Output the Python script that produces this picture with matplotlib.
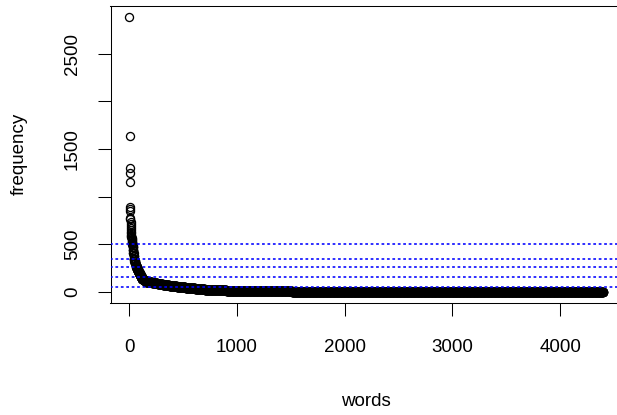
import numpy as np
import matplotlib.pyplot as plt

plt.rcParams['font.family'] = ['Liberation Sans', 'DejaVu Sans']

# most frequent words, read one by one
top_freqs = [2885, 1635, 1297, 1244, 1156, 893, 872, 845, 780, 762, 735, 712, 690,
             668, 650, 633, 618, 602, 590, 578, 565, 553, 542, 533, 525, 517, 510,
             505, 500, 495]
# the rest: frequency level and how many words sit at it
freq_levels = [470, 440, 410, 380, 350, 320, 300, 280, 260, 240, 220, 200, 180, 160,
               140, 125, 110, 100, 90, 80, 70, 60, 50, 40, 30, 20, 15, 10, 1]
level_counts = [3, 3, 3, 3, 4, 5, 6, 6, 6, 8, 9, 10, 9, 10,
                15, 20, 30, 30, 50, 50, 60, 70, 80, 90, 90, 200, 250, 360, 2890]
# dotted reference lines
cut_lines = [500, 350, 260, 155, 48]

frequency = np.concatenate([top_freqs, np.repeat(freq_levels, level_counts)])
words = np.arange(1, len(frequency) + 1)

fig = plt.figure(figsize=(6.17, 4.15), dpi=100)
ax = fig.add_axes([110.5 / 617, 1 - 302.9 / 415, (622 - 110.5) / 617, (302.9 - 5.8) / 415])

ax.plot(words, frequency, linestyle='none', marker='o', markersize=5.8,
        markerfacecolor='none', markeredgecolor='black', markeredgewidth=0.95)
ax.hlines(cut_lines, -175, 4575, colors='#0000ff', linewidth=1.15,
          linestyles=[(0, (1.7, 1.7))], zorder=3)

ax.set_xlim(-175, 4575)
ax.set_ylim(-114, 3000)

ax.set_xticks([0, 1000, 2000, 3000, 4000])
ax.set_yticks([0, 500, 1000, 1500, 2000, 2500])
ax.set_yticklabels(['0', '500', '', '1500', '', '2500'])
ax.tick_params(direction='out', length=9.7, width=0.75, labelsize=13.5, colors='black')
ax.tick_params(axis='x', pad=16.5)
ax.tick_params(axis='y', pad=11.5)
plt.setp(ax.get_yticklabels(), rotation=90, va='center')

for s in ax.spines.values():
    s.set_linewidth(0.75)
# the right edge of the box falls outside the picture
ax.spines['right'].set_visible(False)

ax.set_xlabel('words', fontsize=13.5, va='center')
ax.set_ylabel('frequency', fontsize=13.5, va='center')
ax.xaxis.set_label_coords(0.5, (302.9 - 401) / 297.1)
ax.yaxis.set_label_coords((19 - 110.5) / 511.5, 0.5)

fig.savefig('out.png', dpi=100)
